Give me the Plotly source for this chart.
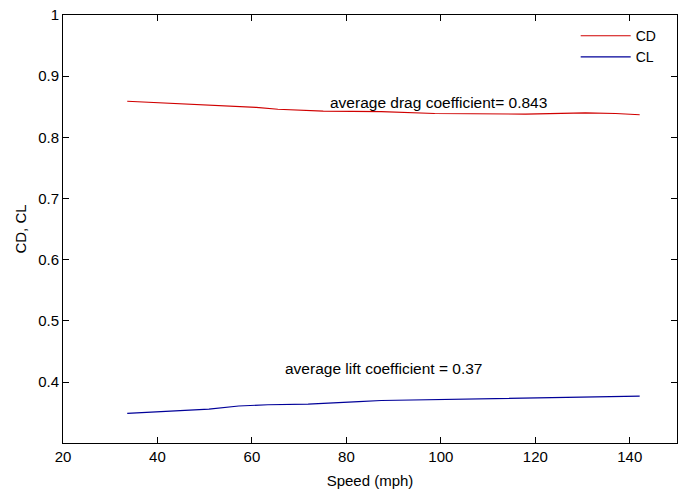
import plotly.graph_objects as go

# Drag coefficient vs speed
cd_speed = [33.6, 41.3, 46.4, 51.3, 56.2, 60.9, 65.5, 70.4, 75.1, 87.4, 98.7, 117.9, 125.7, 130.6, 137.0, 142.1]
cd_vals = [0.859, 0.856, 0.854, 0.852, 0.851, 0.849, 0.846, 0.845, 0.843, 0.842, 0.839, 0.838, 0.839, 0.840, 0.839, 0.837]

# Lift coefficient vs speed
cl_speed = [33.6, 38.5, 44.9, 50.9, 57.2, 63.4, 71.9, 78.9, 82.6, 87.4, 108.1, 128.3, 137.9, 142.1]
cl_vals = [0.349, 0.351, 0.353, 0.356, 0.361, 0.363, 0.364, 0.366, 0.368, 0.370, 0.373, 0.375, 0.377, 0.377]

x_ticks = [20, 40, 60, 80, 100, 120, 140]
y_ticks = [0.4, 0.5, 0.6, 0.7, 0.8, 0.9, 1]
y_tick_text = ["0.4", "0.5", "0.6", "0.7", "0.8", "0.9", "1"]

font_family = "Arial, Liberation Sans, Helvetica, sans-serif"

fig = go.Figure()
fig.add_trace(go.Scatter(x=cd_speed, y=cd_vals, mode="lines", name="CD",
                         line=dict(color="#d00000", width=1.2)))
fig.add_trace(go.Scatter(x=cl_speed, y=cl_vals, mode="lines", name="CL",
                         line=dict(color="#000099", width=1.2)))

fig.add_annotation(x=76.2, y=0.857, text="average drag coefficient= 0.843",
                   showarrow=False, xanchor="left", yanchor="middle",
                   font=dict(size=15.5, color="black", family=font_family))
fig.add_annotation(x=66.6, y=0.423, text="average lift coefficient = 0.37",
                   showarrow=False, xanchor="left", yanchor="middle",
                   font=dict(size=15.5, color="black", family=font_family))

axis_common = dict(showline=True, linecolor="black", linewidth=1, mirror="ticks",
                   ticks="inside", ticklen=6, tickcolor="black", showgrid=False,
                   zeroline=False, automargin=False, ticklabeloverflow="allow",
                   tickfont=dict(size=15, color="black", family=font_family))

fig.update_xaxes(range=[20, 150], tickvals=x_ticks,
                 title=dict(text="Speed (mph)", font=dict(size=15, color="black", family=font_family)),
                 **axis_common)
fig.update_yaxes(range=[0.3005, 1], tickvals=y_ticks, ticktext=y_tick_text,
                 title=dict(text="CD, CL", font=dict(size=15, color="black", family=font_family), standoff=7),
                 **axis_common)

fig.update_layout(
    width=681, height=489,
    margin=dict(l=63, r=4, t=15, b=46, autoexpand=False),
    plot_bgcolor="white", paper_bgcolor="white",
    font=dict(family=font_family, size=15, color="black"),
    legend=dict(x=0.835, y=0.988, xanchor="left", yanchor="top",
                bgcolor="rgba(0,0,0,0)", borderwidth=0,
                font=dict(size=14, color="black", family=font_family),
                itemwidth=50, tracegroupgap=0),
)

fig.write_html("out.html", config={"displayModeBar": False},
               post_script="document.body.style.margin='0px';document.body.style.overflow='hidden';")
